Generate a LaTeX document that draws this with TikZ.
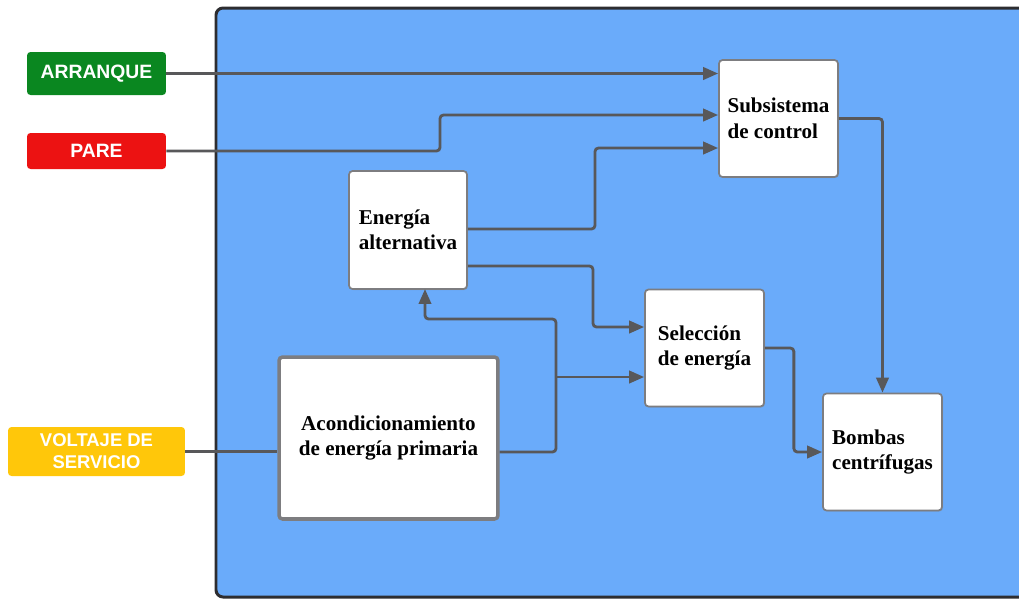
\documentclass[tikz,border=0pt]{standalone}
\usepackage{fontspec}
\setmainfont{Liberation Serif}
\setsansfont{Liberation Sans}
\usepackage{tikz}
\usetikzlibrary{positioning,arrows.meta,calc,shadows}
\tikzset{>=Stealth}
\definecolor{panelblue}{RGB}{106,171,250}
\definecolor{panelline}{RGB}{45,45,48}
\definecolor{flowgray}{RGB}{88,88,90}
\definecolor{boxgray}{RGB}{125,125,128}
\definecolor{startgreen}{RGB}{10,135,32}
\definecolor{stopred}{RGB}{236,18,18}
\definecolor{supplyyellow}{RGB}{255,199,10}
\tikzset{
  block/.style={draw=boxgray, line width=1pt, fill=white, rounded corners=2pt,
    align=left, font=\bfseries\fontsize{12}{14.5}\selectfont,
    minimum width=2.38cm, minimum height=2.34cm,
    drop shadow={opacity=0.25, shadow xshift=0.6pt, shadow yshift=-0.6pt}},
  tag/.style={rounded corners=2pt, text=white, align=center,
    font=\sffamily\bfseries\fontsize{11}{12.5}\selectfont, minimum width=2.78cm},
  flow/.style={draw=flowgray, line width=1.6pt, rounded corners=2pt,
    -{Triangle[length=8.5pt,width=7pt]}},
  wire/.style={draw=flowgray, line width=1.6pt, rounded corners=2pt}
}

\begin{document}
\begin{tikzpicture}[x=0.02cm, y=-0.02cm]
    % Picture frame
    \clip (0,0) rectangle (1019,600);

    % Blue system panel
    \draw[panelline, line width=1.7pt, fill=panelblue, rounded corners=4pt]
        (216,8) rectangle (1040,597);

    % Inputs
    \node[tag, fill=startgreen, minimum height=0.86cm] (arr) at (96.5,73.5) {ARRANQUE};
    \node[tag, fill=stopred, minimum height=0.72cm] (pare) at (96.5,151) {PARE};
    \node[tag, fill=supplyyellow, minimum width=3.54cm, minimum height=0.98cm,
        font=\sffamily\bfseries\fontsize{10.5}{12.5}\selectfont] (volt) at (96.5,451.5) {VOLTAJE DE\\SERVICIO};

    % Blocks
    \node[block] (ctrl) at (778.5,118.5) {Subsistema\\de control};
    \node[block, minimum width=2.36cm, minimum height=2.36cm] (alt) at (408,230) {Energía\\alternativa};
    \node[block] (sel) at (704.5,348) {Selección\\de energía};
    \node[block] (bomb) at (882.5,452) {Bombas\\centrífugas};
    \node[block, align=center, line width=2pt, minimum width=4.38cm, minimum height=3.24cm]
        (acond) at (388.5,438) {Acondicionamiento\\de energía primaria};

    % Bend points
    \coordinate (pareup) at (440,115);
    \coordinate (altup) at (595,148);
    \coordinate (altdown) at (593,327);
    \coordinate (split) at (556,377);
    \coordinate (backtop) at (556,319);
    \coordinate (altin) at (425,289);

    % Control inputs
    \draw[flow] (arr.east) -- (arr.east -| ctrl.west);
    \draw[flow] (pare.east) -| (pareup) -- (pareup -| ctrl.west);
    \draw[flow] ($(alt.east)+(0,-1)$) -| (altup) -- (altup -| ctrl.west);

    % Energy paths
    \draw[flow] ($(alt.east)+(0,36)$) -| (altdown) -- (altdown -| sel.west);
    \draw[wire] (volt.east) -- (volt.east -| acond.west);
    \draw[flow] ($(acond.east)+(0,14)$) -| (backtop) -| (altin);
    \draw[flow] (split) -- (split -| sel.west);

    % Outputs to pumps
    \draw[flow] (ctrl.east) -| (bomb.north);
    \draw[flow] (sel.east) -- ++(29,0) |- (bomb.west);

\end{tikzpicture}
\end{document}
